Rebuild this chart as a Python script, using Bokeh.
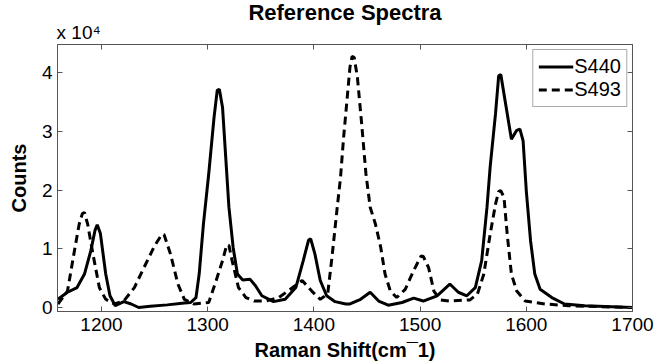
from bokeh.plotting import figure
from bokeh.models import (Range1d, LinearAxis, FixedTicker, Legend, LegendItem)
from bokeh.embed import file_html
from bokeh.resources import INLINE

# ---- data (Raman shift in cm^-1, counts) ----
s440_x = [1159, 1168, 1177, 1184, 1190, 1194, 1196, 1199, 1204, 1208, 1213, 1221, 1228, 1235,
          1246, 1262, 1278, 1284, 1289, 1292, 1296, 1301, 1306, 1309, 1311, 1314, 1317, 1320,
          1324, 1328, 1333, 1340, 1345, 1351, 1362, 1373, 1383, 1390, 1395, 1397, 1401, 1406,
          1412, 1420, 1430, 1434, 1444, 1453, 1461, 1470, 1483, 1494, 1503, 1516, 1528, 1536,
          1544, 1552, 1558, 1563, 1566, 1571, 1574, 1576, 1580, 1586, 1591, 1594, 1597, 1600,
          1604, 1608, 1613, 1624, 1636, 1655, 1700]
s440_y = [1400, 2600, 3400, 5700, 9700, 13200, 14100, 12600, 5700, 2000, 300, 1000, 600, 0,
          200, 450, 750, 850, 1700, 5700, 14200, 22800, 32400, 37000, 37200, 34100, 25600, 17100,
          10200, 5700, 4700, 4800, 3700, 2000, 1000, 1400, 3400, 8000, 11500, 11700, 9100, 4600,
          2000, 1000, 600, 600, 1400, 2600, 1100, 400, 850, 1600, 1100, 2000, 4000, 2600,
          2000, 3400, 8000, 17100, 24000, 33000, 39500, 39700, 35300, 28700, 30200, 30400, 28400, 19900,
          11400, 5700, 3100, 1700, 600, 300, 0]

s493_x = [1159, 1168, 1174, 1179, 1182, 1184, 1187, 1192, 1198, 1204, 1212, 1221, 1231, 1240,
          1250, 1257, 1259, 1265, 1272, 1278, 1287, 1301, 1308, 1314, 1318, 1320, 1323, 1329,
          1336, 1344, 1355, 1367, 1380, 1389, 1398, 1406, 1413, 1417, 1422, 1425, 1428, 1431,
          1434, 1436, 1438, 1441, 1445, 1449, 1453, 1458, 1463, 1467, 1472, 1478, 1486, 1494,
          1501, 1503, 1508, 1513, 1519, 1528, 1547, 1554, 1560, 1566, 1571, 1574, 1576, 1579,
          1582, 1586, 1591, 1599, 1618, 1640, 1700]
s493_y = [600, 2800, 9100, 14200, 16000, 16200, 14200, 9100, 3400, 1400, 600, 1100, 3400, 6800,
          10500, 12500, 12400, 9100, 4000, 1400, 600, 850, 4600, 8000, 10700, 10600, 8000, 3400,
          1700, 1100, 1100, 1700, 3400, 4600, 2800, 1400, 2300, 8500, 17100, 22000, 29000, 35000,
          41000, 42800, 42600, 39200, 31300, 22800, 17100, 14200, 10200, 5700, 2800, 1700, 3100, 6300,
          8800, 8700, 6800, 2800, 1300, 1100, 1300, 2300, 5700, 12500, 17600, 19800, 19900, 18800,
          12500, 5700, 2800, 1100, 600, 300, 0]

x_ticks = [1200, 1300, 1400, 1500, 1600, 1700]
y_ticks = [0, 10000, 20000, 30000, 40000]
y_tick_labels = {0: "0", 10000: "1", 20000: "2", 30000: "3", 40000: "4"}
series_names = ["S440", "S493"]
scale_note = "x 10⁴"

FONT = "Liberation Sans"
FRAME = "#555555"

p = figure(width=667, height=364, output_backend="svg", toolbar_location=None,
           x_range=Range1d(1158.6, 1700), y_range=Range1d(-680, 44830),
           min_border_left=57, min_border_right=35, min_border_top=44, min_border_bottom=53,
           x_axis_location=None, y_axis_location=None)
p.background_fill_color = "white"
p.border_fill_color = "white"
p.outline_line_color = FRAME
p.xgrid.visible = False
p.ygrid.visible = False

r1 = p.line(s440_x, s440_y, line_color="black", line_width=3)
r2 = p.line(s493_x, s493_y, line_color="black", line_width=3, line_dash="8 5")

def style_axis(ax, labels=True):
    ax.axis_line_color = FRAME
    ax.major_tick_line_color = FRAME
    ax.major_tick_in = 5
    ax.major_tick_out = 0
    ax.minor_tick_line_color = None
    ax.major_label_text_font = FONT
    ax.major_label_text_font_size = "19px"
    ax.major_label_text_color = "black"
    if not labels:
        ax.major_label_text_font_size = "0px"
        ax.major_label_text_alpha = 0
        ax.major_label_standoff = 0

xb = LinearAxis(ticker=FixedTicker(ticks=x_ticks), axis_label="Raman Shift(cm¯1)")
style_axis(xb)
xb.major_label_standoff = 6
xb.axis_label_standoff = 5
xb.axis_label_text_font = FONT
xb.axis_label_text_font_style = "bold"
xb.axis_label_text_font_size = "20px"
xb.axis_label_text_color = "black"
p.add_layout(xb, "below")

yl = LinearAxis(ticker=FixedTicker(ticks=y_ticks), axis_label="Counts")
style_axis(yl)
yl.major_label_overrides = y_tick_labels
yl.major_label_standoff = 5
yl.axis_label_standoff = 9
yl.axis_label_text_font = FONT
yl.axis_label_text_font_style = "bold"
yl.axis_label_text_font_size = "20px"
yl.axis_label_text_color = "black"
p.add_layout(yl, "left")

# top axis carries the "x 10^4" scale note at the left edge
# (the label is centred on the axis start, so pad it with no-break spaces)
xt = LinearAxis(ticker=FixedTicker(ticks=x_ticks), axis_label="\u00a0" * 8 + scale_note)
style_axis(xt, labels=False)
xt.axis_label_align = "start"
xt.axis_label_standoff = 2
xt.axis_label_text_font = FONT
xt.axis_label_text_font_size = "19px"
xt.axis_label_text_font_style = "normal"
xt.axis_label_text_color = "black"
p.add_layout(xt, "above")

yr = LinearAxis(ticker=FixedTicker(ticks=y_ticks))
style_axis(yr, labels=False)
p.add_layout(yr, "right")

p.title.text = "Reference Spectra"
p.title.align = "center"
p.title.text_font = FONT
p.title.text_font_size = "22px"
p.title.text_font_style = "bold"
p.title.text_color = "black"
p.title.standoff = -12

legend = Legend(items=[LegendItem(label=series_names[0], renderers=[r1]),
                       LegendItem(label=series_names[1], renderers=[r2])],
                location="top_right")
legend.margin = 5
legend.padding = 5
legend.spacing = 0
legend.glyph_width = 35
legend.glyph_height = 23
legend.label_standoff = 1
legend.label_text_font = FONT
legend.label_text_font_size = "20px"
legend.label_text_color = "black"
legend.label_height = 23
legend.border_line_color = FRAME
legend.border_line_width = 1
legend.background_fill_alpha = 1
p.add_layout(legend)

open("out.html", "w").write(file_html(p, INLINE))
